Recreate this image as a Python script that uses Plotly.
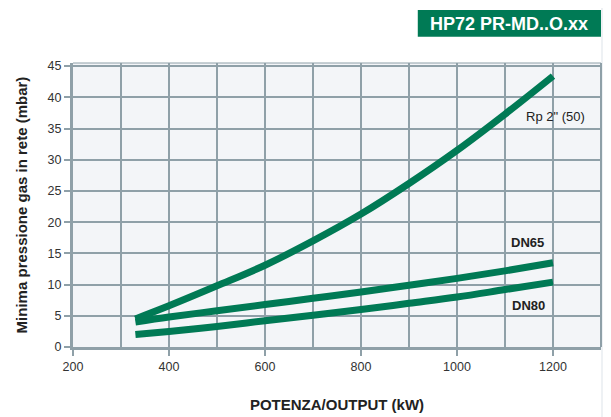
import plotly.graph_objects as go

power_kw = [330, 400, 500, 600, 700, 800, 900, 1000, 1100, 1200]
rp2_50 = [4.5, 6.6, 9.8, 13.1, 17.0, 21.3, 26.2, 31.5, 37.3, 43.4]
dn65 = [4.0, 4.8, 5.8, 6.8, 7.8, 8.8, 9.9, 11.0, 12.2, 13.5]
dn80 = [2.0, 2.5, 3.3, 4.2, 5.1, 6.0, 7.0, 8.0, 9.2, 10.4]
series_names = ['Rp 2" (50)', "DN65", "DN80"]
x_ticks = [200, 400, 600, 800, 1000, 1200]
y_ticks = [0, 5, 10, 15, 20, 25, 30, 35, 40, 45]

GREEN = "#007a55"
GRID = "#8fa0a8"
FONT = "Liberation Sans, Arial, sans-serif"

fig = go.Figure()
for ys, name in zip([rp2_50, dn65, dn80], series_names):
    fig.add_trace(go.Scatter(x=power_kw, y=ys, mode="lines", name=name,
                             line=dict(color=GREEN, width=7, shape="spline"),
                             showlegend=False, hoverinfo="skip"))

# Series labels
fig.add_annotation(x=1270, y=rp2_50[-1] - 6.5, text=series_names[0], showarrow=False,
                   xanchor="right", yanchor="middle", font=dict(family=FONT, size=13, color="#222"))
fig.add_annotation(x=1186, y=dn65[-1] + 3.2, text="<b>" + series_names[1] + "</b>", showarrow=False,
                   xanchor="right", yanchor="middle", font=dict(family=FONT, size=13, color="#222"))
fig.add_annotation(x=1188, y=dn80[-1] - 3.7, text="<b>" + series_names[2] + "</b>", showarrow=False,
                   xanchor="right", yanchor="middle", font=dict(family=FONT, size=13, color="#222"))

# subtle grey fade at right edge of page
for i, c in enumerate(["#eef1f4", "#e4e8ec", "#dbe0e5"]):
    fig.add_shape(type="rect", xref="paper", yref="paper", x0=1.0 + i * 0.006, x1=1.05,
                  y0=-0.3, y1=1.25, fillcolor=c, line=dict(width=0), layer="below")

# Title box
fig.add_shape(type="rect", xref="paper", yref="paper", x0=0.653, x1=1.0, y0=1.092, y1=1.187,
              fillcolor=GREEN, line=dict(width=0), layer="above")
fig.add_annotation(xref="paper", yref="paper", x=0.8265, y=1.139, text="<b>HP72 PR-MD..O.xx</b>",
                   showarrow=False, xanchor="center", yanchor="middle",
                   font=dict(family=FONT, size=18, color="white"))

fig.update_xaxes(range=[200, 1300], tickvals=x_ticks,
                 showgrid=True, gridcolor=GRID, gridwidth=2,
                 minor=dict(dtick=100, showgrid=True, gridcolor=GRID, gridwidth=2),
                 showline=True, linecolor=GRID, linewidth=3, mirror=False,
                 ticks="outside", ticklen=6, tickwidth=2, tickcolor=GRID,
                 zeroline=False,
                 tickfont=dict(family=FONT, size=12.5, color="#333"),
                 title=dict(text="<b>POTENZA/OUTPUT (kW)</b>", standoff=27,
                            font=dict(family=FONT, size=15, color="#222")))
fig.update_yaxes(range=[0, 45.5], tickvals=y_ticks,
                 showgrid=True, gridcolor=GRID, gridwidth=2,
                 showline=True, linecolor=GRID, linewidth=3,
                 ticks="outside", ticklen=6, tickwidth=2, tickcolor=GRID,
                 zeroline=False,
                 tickfont=dict(family=FONT, size=12.5, color="#333"),
                 title=dict(text="<b>Minima pressione gas in rete (mbar)</b>", standoff=17,
                            font=dict(family=FONT, size=15, color="#222")))

# right and top border of plot area
fig.add_shape(type="line", xref="paper", yref="paper", x0=1, x1=1, y0=0, y1=1,
              line=dict(color=GRID, width=2))
fig.add_shape(type="line", xref="paper", yref="paper", x0=0, x1=1, y0=1, y1=1,
              line=dict(color=GRID, width=1))

# page body has an 8px default margin, so offset left/top margins accordingly
fig.update_layout(width=611, height=417,
                  margin=dict(l=65, r=18, t=55, b=78, autoexpand=False),
                  paper_bgcolor="white", plot_bgcolor="#f3f5f8",
                  font=dict(family=FONT))

fig.write_html("out.html")
